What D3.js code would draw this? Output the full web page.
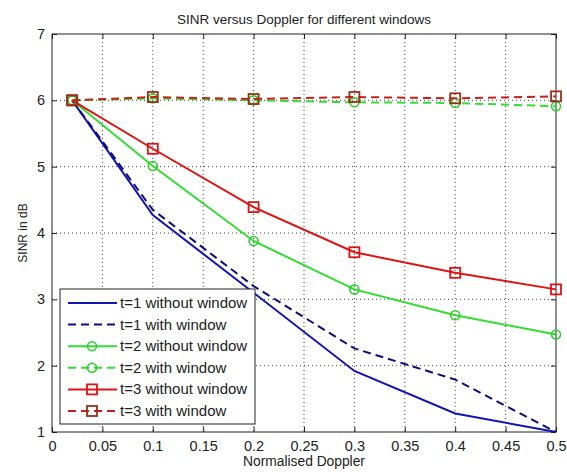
<!DOCTYPE html>
<html><head><meta charset="utf-8">
<script src="https://cdn.jsdelivr.net/npm/d3@7"></script>
<style>body{margin:0;background:#fff}svg{display:block}text{font-family:"Liberation Sans",Arial,sans-serif;fill:#222}</style>
</head><body><svg id="c" width="567" height="472"></svg>
<script>
const doppler = [0.02, 0.1, 0.2, 0.3, 0.4, 0.5];
const t1NoWin = [6.0, 4.27, 3.1, 1.92, 1.28, 1.0];
const t1Win   = [6.0, 4.35, 3.2, 2.26, 1.79, 1.0];
const t2NoWin = [6.0, 5.01, 3.88, 3.15, 2.76, 2.47];
const t2Win   = [6.0, 6.03, 6.0, 5.97, 5.96, 5.91];
const t3NoWin = [6.0, 5.27, 4.39, 3.71, 3.40, 3.15];
const t3Win   = [6.0, 6.05, 6.02, 6.05, 6.03, 6.06];
const seriesNames = ["t=1 without window","t=1 with window","t=2 without window","t=2 with window","t=3 without window","t=3 with window"];
const xTicks = [0,0.05,0.1,0.15,0.2,0.25,0.3,0.35,0.4,0.45,0.5];
const yTicks = [1,2,3,4,5,6,7];
const titleText = "SINR versus Doppler for different windows";
const xLabel = "Normalised Doppler";
const yLabel = "SINR in dB";

const series = [
  {name:seriesNames[0], values:t1NoWin, color:"#1414b4", dash:null, marker:null},
  {name:seriesNames[1], values:t1Win, color:"#0c0c80", dash:"8,5", marker:null},
  {name:seriesNames[2], values:t2NoWin, color:"#30dd30", dash:null, marker:"circle", mcolor:"#30cc30"},
  {name:seriesNames[3], values:t2Win, color:"#30dd30", dash:"8,5", marker:"circle", mcolor:"#30cc30"},
  {name:seriesNames[4], values:t3NoWin, color:"#dd1414", dash:null, marker:"square", mcolor:"#dd1414"},
  {name:seriesNames[5], values:t3Win, color:"#c81e1e", dash:"8,5", marker:"square", mcolor:"#9a3018"}
];

const L=52,R=556,T=34,B=432;
const svg=d3.select("#c");
const x=d3.scaleLinear().domain([0,0.5]).range([L,R]);
const y=d3.scaleLinear().domain([1,7]).range([B,T]);

// grid
const g=svg.append("g");
g.selectAll(".gx").data(xTicks.slice(1,-1)).enter().append("line")
 .attr("x1",d=>x(d)).attr("x2",d=>x(d)).attr("y1",T).attr("y2",B)
 .attr("stroke","#444").attr("stroke-width",1).attr("stroke-dasharray","1,3");
g.selectAll(".gy").data(yTicks.slice(1,-1)).enter().append("line")
 .attr("y1",d=>y(d)).attr("y2",d=>y(d)).attr("x1",L).attr("x2",R)
 .attr("stroke","#444").attr("stroke-width",1).attr("stroke-dasharray","1,3");

// axes
const fmt=d=>String(d);
svg.append("g").attr("transform",`translate(0,${B})`)
 .call(d3.axisBottom(x).tickValues(xTicks).tickFormat(fmt).tickSize(-5).tickPadding(9))
 .call(a=>{a.select(".domain").remove();a.selectAll("line").attr("stroke","#222");a.selectAll("text").style("font-size","14.5px").attr("fill","#222");});
svg.append("g").attr("transform",`translate(0,${T})`)
 .call(d3.axisTop(x).tickValues(xTicks).tickFormat("").tickSize(-5))
 .call(a=>{a.select(".domain").remove();a.selectAll("line").attr("stroke","#222");});
svg.append("g").attr("transform",`translate(${L},0)`)
 .call(d3.axisLeft(y).tickValues(yTicks).tickFormat(fmt).tickSize(-5).tickPadding(7))
 .call(a=>{a.select(".domain").remove();a.selectAll("line").attr("stroke","#222");a.selectAll("text").style("font-size","14.5px").attr("fill","#222");});
svg.append("g").attr("transform",`translate(${R},0)`)
 .call(d3.axisRight(y).tickValues(yTicks).tickFormat("").tickSize(-5))
 .call(a=>{a.select(".domain").remove();a.selectAll("line").attr("stroke","#222");});
svg.append("rect").attr("x",L).attr("y",T).attr("width",R-L).attr("height",B-T)
 .attr("fill","none").attr("stroke","#222").attr("stroke-width",1);

// lines
const line=d3.line().x((d,i)=>x(doppler[i])).y(d=>y(d));
function drawMarker(sel,type,cx,cy,col){
  if(type==="circle") sel.append("circle").attr("cx",cx).attr("cy",cy).attr("r",4.5)
    .attr("fill","none").attr("stroke",col).attr("stroke-width",1.6);
  else if(type==="square") sel.append("rect").attr("x",cx-5).attr("y",cy-5).attr("width",10).attr("height",10)
    .attr("fill","none").attr("stroke",col).attr("stroke-width",1.8);
}
const pg=svg.append("g");
series.forEach(s=>{
  pg.append("path").attr("d",line(s.values)).attr("fill","none").attr("stroke",s.color)
    .attr("stroke-width",2).attr("stroke-dasharray",s.dash);
  if(s.marker) s.values.forEach((v,i)=>drawMarker(pg,s.marker,x(doppler[i]),y(v),s.mcolor));
});

// legend
const lg=svg.append("g");
lg.append("rect").attr("x",60).attr("y",289).attr("width",195).attr("height",135)
 .attr("fill","#fff").attr("stroke","#222").attr("stroke-width",1);
series.forEach((s,i)=>{
  const yy=303+i*21.6;
  lg.append("line").attr("x1",68).attr("x2",117).attr("y1",yy).attr("y2",yy)
    .attr("stroke",s.color).attr("stroke-width",2).attr("stroke-dasharray",s.dash);
  if(s.marker) drawMarker(lg,s.marker,92,yy,s.mcolor);
  lg.append("text").attr("x",120).attr("y",yy+5).style("font-size","15px").text(s.name);
});

// labels
svg.append("text").attr("x",(L+R)/2).attr("y",24).attr("text-anchor","middle").style("font-size","13.5px").text(titleText);
svg.append("text").attr("x",(L+R)/2).attr("y",466).attr("text-anchor","middle").style("font-size","13.8px").text(xLabel);
svg.append("text").attr("transform",`translate(27,${(T+B)/2}) rotate(-90)`).attr("text-anchor","middle").style("font-size","12px").text(yLabel);
</script></body></html>
